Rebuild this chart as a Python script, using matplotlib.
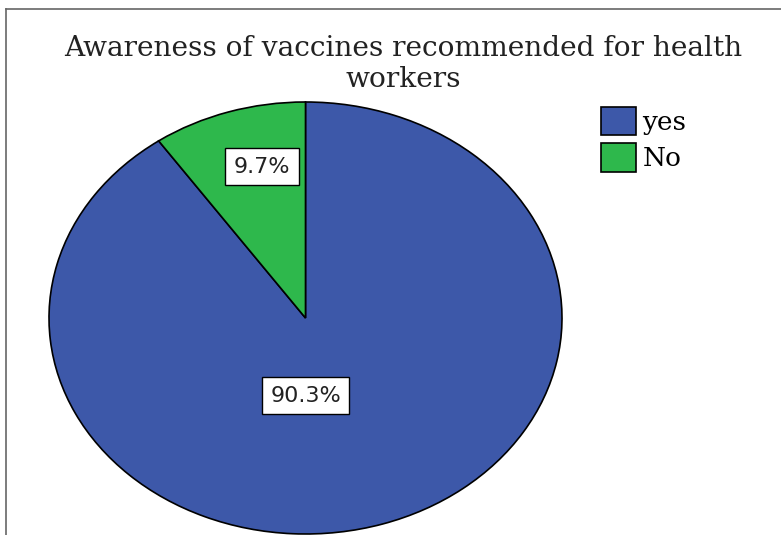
import matplotlib
matplotlib.use("Agg")
import matplotlib.pyplot as plt
from matplotlib.lines import Line2D
from matplotlib.patches import Patch

# data
categories = ["yes", "No"]
percents = [90.3, 9.7]
colors = ["#3D58A9", "#2EB84C"]
title = "Awareness of vaccines recommended for health\nworkers"

W, H = 781, 535
fig = plt.figure(figsize=(W / 100, H / 100), dpi=100)

# frame (only top and left edges are visible in the crop)
fig.add_artist(Line2D([6 / W, 6 / W], [0, 1 - 9 / H], color="#666666", lw=1.2))
fig.add_artist(Line2D([6 / W, 1], [1 - 9 / H, 1 - 9 / H], color="#666666", lw=1.2))

# elliptical pie: axes spans the ellipse bounding box
ax = fig.add_axes([49 / W, 1 / H, 513 / W, 432 / H])
wedges, texts, autotexts = ax.pie(
    percents, colors=colors, startangle=90, counterclock=False,
    autopct=lambda p: f"{p:.1f}%", pctdistance=0.72,
    wedgeprops=dict(edgecolor="black", linewidth=1.2),
    textprops=dict(family="DejaVu Sans", fontsize=16, color="#222222"),
)
ax.set_aspect("auto")
ax.set_xlim(-1, 1)
ax.set_ylim(-1, 1)
ax.axis("off")

# SPSS-style boxed labels
label_pos = [(0.0, -0.36), (-0.17, 0.70)]
for t, pos in zip(autotexts, label_pos):
    t.set_position(pos)
    t.set_ha("center")
    t.set_va("center")
    t.set_bbox(dict(boxstyle="square,pad=0.38", fc="white", ec="black", lw=1.0))

fig.text(403 / W, 1 - 64 / H, title, ha="center", va="center",
         family="DejaVu Serif", fontsize=20.2, color="#222222", linespacing=1.2)

handles = [Patch(facecolor=c, edgecolor="black", linewidth=1.2) for c in colors]
fig.legend(handles, categories, loc="upper left",
           bbox_to_anchor=(590 / W, 1 - 96 / H), frameon=False,
           prop=dict(family="DejaVu Serif", size=19),
           handlelength=1.33, handleheight=1.3, handletextpad=0.25,
           labelspacing=0.3, borderaxespad=0)

fig.savefig("out.png", dpi=100)
